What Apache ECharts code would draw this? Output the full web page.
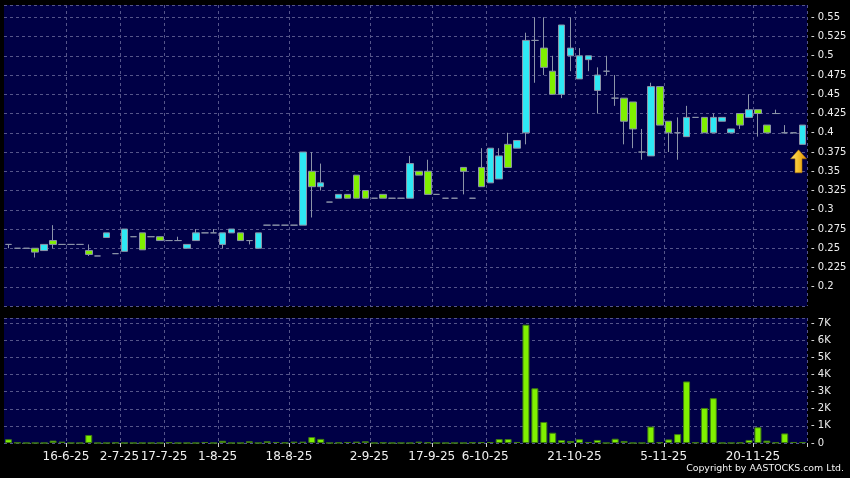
<!DOCTYPE html>
<html>
<head>
<meta charset="utf-8">
<script src="https://cdn.jsdelivr.net/npm/echarts@6/dist/echarts.min.js"></script>
<style>
  html, body { margin: 0; padding: 0; background: #000; }
  #chart { width: 850px; height: 478px; }
</style>
</head>
<body>
<div id="chart"></div>
<script>
// trading days shown (days without trades are skipped by the source chart)
const dates = [
  '3-6-25', '4-6-25', '5-6-25', '6-6-25', '10-6-25', '11-6-25', '13-6-25', '16-6-25',
  '18-6-25', '20-6-25', '24-6-25', '26-6-25', '30-6-25', '2-7-25',
  '4-7-25', '8-7-25', '11-7-25', '15-7-25', '17-7-25',
  '18-7-25', '22-7-25', '24-7-25', '28-7-25', '30-7-25', '1-8-25',
  '4-8-25', '5-8-25', '7-8-25', '8-8-25', '12-8-25', '13-8-25', '15-8-25', '18-8-25',
  '19-8-25', '20-8-25', '21-8-25', '22-8-25', '25-8-25', '26-8-25', '28-8-25', '29-8-25', '2-9-25',
  '4-9-25', '5-9-25', '8-9-25', '10-9-25', '12-9-25', '15-9-25', '17-9-25',
  '19-9-25', '23-9-25', '25-9-25', '29-9-25', '2-10-25', '6-10-25',
  '8-10-25', '9-10-25', '10-10-25', '13-10-25', '14-10-25', '15-10-25', '16-10-25', '17-10-25', '20-10-25', '21-10-25',
  '22-10-25', '23-10-25', '24-10-25', '27-10-25', '28-10-25', '30-10-25', '31-10-25', '3-11-25', '4-11-25', '5-11-25',
  '6-11-25', '7-11-25', '10-11-25', '11-11-25', '12-11-25', '13-11-25', '14-11-25', '17-11-25', '19-11-25', '20-11-25',
  '21-11-25', '24-11-25', '25-11-25', '26-11-25', '27-11-25'
];
const labelDays = ['16-6-25', '2-7-25', '17-7-25', '1-8-25', '18-8-25', '2-9-25',
  '17-9-25', '6-10-25', '21-10-25', '5-11-25', '20-11-25'];

const opens = [
  .255, .25, .25, .25, .247, .26, .255, .255, .255, .247,
  .24, .264, .243, .246, .265, .27, .265, .265, .26, .26,
  .25, .26, .27, .27, .255, .27, .27, .26, .25, .28,
  .28, .28, .28, .28, .35, .33, .31, .315, .32, .345,
  .325, .315, .32, .315, .315, .315, .35, .35, .32, .315,
  .315, .355, .315, .355, .335, .34, .385, .38, .40, .52,
  .51, .48, .45, .50, .47, .495, .455, .48, .445, .445,
  .44, .375, .37, .46, .415, .40, .395, .42, .42, .40,
  .415, .40, .425, .42, .43, .41, .425, .40, .40, .385
];
const closes = [
  .255, .25, .25, .245, .255, .255, .255, .255, .255, .242,
  .24, .27, .243, .275, .265, .248, .265, .26, .26, .26,
  .255, .27, .27, .27, .27, .275, .26, .26, .27, .28,
  .28, .28, .28, .375, .33, .335, .31, .32, .315, .315,
  .315, .315, .315, .315, .315, .36, .345, .32, .32, .315,
  .315, .35, .315, .33, .38, .37, .355, .39, .52, .52,
  .485, .45, .54, .51, .50, .50, .475, .48, .445, .415,
  .405, .375, .46, .41, .40, .40, .42, .42, .40, .42,
  .42, .405, .41, .43, .425, .40, .425, .40, .40, .41
];
const lows = [
  .25, .25, .25, .238, .247, .25, .255, .255, .255, .24,
  .24, .264, .243, .246, .265, .248, .265, .26, .26, .26,
  .25, .26, .27, .27, .25, .27, .26, .255, .25, .28,
  .28, .28, .28, .28, .29, .325, .31, .315, .315, .315,
  .315, .315, .315, .315, .315, .315, .345, .32, .32, .315,
  .315, .32, .315, .33, .335, .34, .355, .38, .385, .465,
  .475, .45, .445, .48, .47, .48, .425, .475, .435, .385,
  .38, .365, .37, .41, .375, .365, .395, .42, .40, .40,
  .415, .40, .405, .42, .395, .40, .425, .40, .40, .385
];
const highs = [
  .255, .25, .25, .25, .255, .28, .255, .255, .255, .255,
  .24, .27, .243, .275, .265, .27, .265, .265, .26, .265,
  .255, .275, .27, .275, .27, .275, .27, .26, .27, .28,
  .28, .28, .28, .375, .375, .36, .31, .32, .32, .345,
  .325, .315, .32, .315, .315, .37, .35, .365, .32, .315,
  .315, .355, .315, .38, .38, .38, .40, .39, .53, .55,
  .55, .50, .54, .55, .51, .50, .485, .50, .475, .445,
  .44, .405, .465, .46, .415, .42, .435, .42, .42, .425,
  .42, .405, .425, .45, .43, .41, .43, .41, .40, .41
];
const volumes = [
  220, 20, 0, 0, 0, 140, 80, 0, 0, 470,
  0, 0, 20, 0, 0, 0, 0, 0, 40, 0,
  0, 0, 60, 0, 130, 0, 0, 100, 0, 100,
  60, 20, 80, 80, 350, 240, 0, 20, 60, 80,
  100, 0, 20, 0, 0, 0, 80, 30, 0, 0,
  0, 0, 30, 50, 60, 230, 230, 60, 6920, 3200,
  1230, 600, 170, 120, 220, 60, 180, 0, 250, 120,
  0, 0, 960, 40, 210, 520, 3600, 30, 2050, 2620,
  0, 0, 20, 180, 920, 140, 30, 560, 60, 50
];

const candles = dates.map((d, i) => [opens[i], closes[i], lows[i], highs[i]]);
const last = dates.length - 1;

const chart = echarts.init(document.getElementById('chart'));
const gridColor = '#55558a';
const isLabelDay = (idx, val) => labelDays.includes(val);

const option = {
  backgroundColor: '#000',
  animation: false,
  textStyle: { fontFamily: 'DejaVu Sans' },
  grid: [
    { left: 4, right: 43, top: 5, height: 301, show: true, backgroundColor: '#000046', borderWidth: 0 },
    { left: 4, right: 43, top: 318, height: 125, show: true, backgroundColor: '#000046', borderWidth: 0 }
  ],
  xAxis: [
    {
      type: 'category', gridIndex: 0, data: dates,
      axisLine: { show: false }, axisTick: { show: false }, axisLabel: { show: false },
      splitLine: { show: true, interval: isLabelDay, lineStyle: { color: gridColor, type: [3, 3], width: 1 } }
    },
    {
      type: 'category', gridIndex: 1, data: dates, offset: 3,
      axisLine: { show: false },
      axisTick: { show: true, interval: isLabelDay, length: 4, lineStyle: { color: '#cfcfcf' } },
      axisLabel: {
        interval: isLabelDay, margin: 5, color: '#f0f0f0', fontSize: 12,
        formatter: v => '{d|' + v + '}',
        rich: { d: { padding: [0, 10, 0, 0], color: '#f0f0f0', fontSize: 12, fontFamily: 'DejaVu Sans' } }
      },
      splitLine: { show: true, interval: isLabelDay, lineStyle: { color: gridColor, type: [3, 3], width: 1 } }
    }
  ],
  yAxis: [
    {
      type: 'value', gridIndex: 0, position: 'right', scale: true,
      min: 0.175, max: 0.566, interval: 0.025,
      axisLine: { show: false }, axisTick: { show: false },
      axisLabel: {
        margin: 4, color: '#eeeeee', fontSize: 10, showMinLabel: false, showMaxLabel: false,
        formatter: v => '- ' + (+v.toFixed(3))
      },
      splitLine: { show: true, lineStyle: { color: gridColor, type: [3, 3], width: 1 } }
    },
    {
      type: 'value', gridIndex: 1, position: 'right',
      min: 0, max: 7310, interval: 1000,
      axisLine: { show: false }, axisTick: { show: false },
      axisLabel: {
        margin: 4, color: '#eeeeee', fontSize: 10, showMaxLabel: false,
        formatter: v => v === 0 ? '- 0' : '- ' + Math.round(v / 1000) + 'K'
      },
      splitLine: { show: true, lineStyle: { color: gridColor, type: [3, 3], width: 1 } }
    }
  ],
  series: [
    {
      name: 'price', type: 'candlestick', xAxisIndex: 0, yAxisIndex: 0,
      data: candles, barWidth: 7,
      itemStyle: {
        color: '#2ee8f4', color0: '#80f000',
        borderColor: '#8c94a8', borderColor0: '#8c94a8', borderWidth: 1
      },
      markPoint: {
        silent: true,
        symbol: 'path://M8,0 L16,9 L11.5,9 L11.5,23 L4.5,23 L4.5,9 L0,9 Z',
        symbolSize: [16, 23],
        symbolOffset: [-4, 17],
        label: { show: false },
        itemStyle: {
          color: new echarts.graphic.LinearGradient(0, 0, 1, 0, [
            { offset: 0, color: '#ffe070' }, { offset: 0.5, color: '#f5c02a' }, { offset: 1, color: '#d88a08' }
          ]),
          borderColor: '#a86a00', borderWidth: 0.5
        },
        data: [{ coord: [dates[last], lows[last]] }]
      }
    },
    {
      name: 'volume', type: 'bar', xAxisIndex: 1, yAxisIndex: 1,
      data: volumes, barWidth: 7,
      itemStyle: { color: '#80f000', borderColor: '#3f7d12', borderWidth: 1 }
    }
  ],
  graphic: [
    {
      type: 'text', right: 6, top: 464,
      style: { text: 'Copyright by AASTOCKS.com Ltd.', fill: '#f4f4f4', font: '9.4px "DejaVu Sans"' }
    }
  ]
};
chart.setOption(option);
</script>
</body>
</html>
